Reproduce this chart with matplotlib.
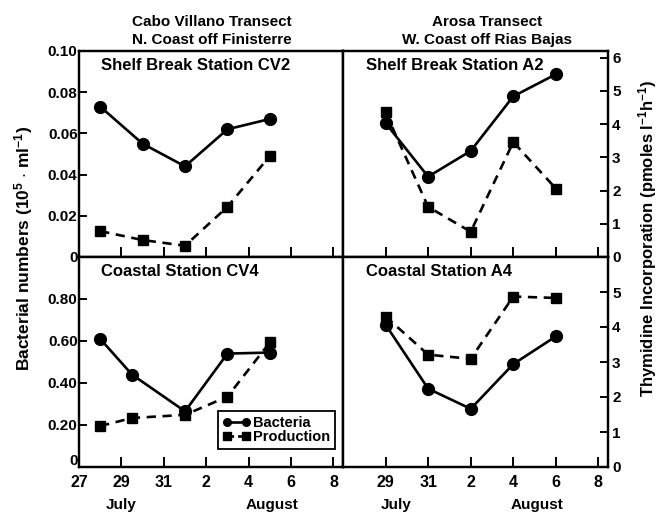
import matplotlib.pyplot as plt
import matplotlib
from matplotlib.lines import Line2D
from matplotlib.transforms import blended_transform_factory

matplotlib.rcParams['font.family'] = ['Liberation Sans', 'DejaVu Sans']
matplotlib.rcParams['font.weight'] = 'bold'
matplotlib.rcParams['font.size'] = 11
matplotlib.rcParams['mathtext.fontset'] = 'custom'
matplotlib.rcParams['mathtext.rm'] = 'Liberation Sans:bold'
matplotlib.rcParams['mathtext.default'] = 'rm'

# x positions are days after July 27
tick_days = [0, 2, 4, 6, 8, 10, 12]
tick_labels = ["27", "29", "31", "2", "4", "6", "8"]

# Cabo Villano, shelf break CV2
cv2_days = [1, 3, 5, 7, 9]
cv2_bact = [0.073, 0.055, 0.044, 0.062, 0.067]
cv2_prod = [0.78, 0.51, 0.34, 1.51, 3.04]

# Arosa, shelf break A2
a2_days = [2, 4, 6, 8, 10]
a2_bact = [0.065, 0.039, 0.0515, 0.078, 0.0887]
a2_prod = [4.35, 1.51, 0.76, 3.46, 2.06]

# Cabo Villano, coastal CV4
cv4_days = [1, 2.5, 5, 7, 9]
cv4_bact = [0.61, 0.44, 0.265, 0.54, 0.545]
cv4_prod = [1.17, 1.40, 1.49, 2.01, 3.56]

# Arosa, coastal A4
a4_days = [2, 4, 6, 8, 10]
a4_bact = [0.678, 0.373, 0.277, 0.49, 0.622]
a4_prod = [4.30, 3.21, 3.09, 4.87, 4.83]

W, H = 666, 512
fig = plt.figure(figsize=(W / 100, H / 100), dpi=100)


def px_axes(x0, x1, y0, y1):
    return fig.add_axes([x0 / W, 1 - y1 / H, (x1 - x0) / W, (y1 - y0) / H])


panels = [
    # (x0, x1, y0, y1, days, bact, prod, title, bact_lim, prod_lim, side, row)
    (79, 343, 51, 257, cv2_days, cv2_bact, cv2_prod, "Shelf Break Station CV2", 0.10, 6.2, "left", "top"),
    (343, 608, 51, 257, a2_days, a2_bact, a2_prod, "Shelf Break Station A2", 0.10, 6.2, "right", "top"),
    (79, 343, 257, 467, cv4_days, cv4_bact, cv4_prod, "Coastal Station CV4", 1.0, 6.0, "left", "bottom"),
    (343, 608, 257, 467, a4_days, a4_bact, a4_prod, "Coastal Station A4", 1.0, 6.0, "right", "bottom"),
]

line_kw = dict(color="black", linewidth=1.9)
for (x0, x1, y0, y1, days, bact, prod, title, blim, plim, side, row) in panels:
    ax = px_axes(x0, x1, y0, y1)
    ax2 = ax.twinx()
    ax.plot(days, bact, "-", marker="o", markersize=8.5, **line_kw)
    ax2.plot(days, prod, "--", marker="s", markersize=7.5, dashes=(3.5, 2.5), **line_kw)

    ax.set_xlim(0, 12.45)
    ax.set_ylim(0, blim)
    ax2.set_ylim(0, plim)

    for a in (ax, ax2):
        for sp in a.spines.values():
            sp.set_linewidth(1.6)

    if side == "left":
        ax.set_xticks(tick_days)
        if row == "top":
            ax.set_yticks([0, 0.02, 0.04, 0.06, 0.08, 0.10],
                          ["0", "0.02", "0.04", "0.06", "0.08", "0.10"])
        else:
            # the bottom "0" is drawn separately, raised a little above the x labels
            ax.set_yticks([0, 0.2, 0.4, 0.6, 0.8],
                          ["", "0.20", "0.40", "0.60", "0.80"])
            ax.annotate("0", xy=(0, 0), xycoords="axes fraction", xytext=(-1, 1.5),
                        textcoords="offset points", ha="right", va="baseline", fontsize=11)
        ax2.set_yticks([])
    else:
        ax.set_xticks(tick_days[1:])
        ax.set_yticks([])
        if row == "top":
            ax2.set_yticks(range(7))
        else:
            ax2.set_yticks(range(6))

    ax.tick_params(axis="x", direction="in", length=7, width=1.4, pad=6, labelsize=11.5)
    ax.tick_params(axis="y", direction="in", length=6, width=1.4, pad=1, labelsize=11)
    ax2.tick_params(axis="y", direction="in", length=6, width=1.4, pad=3, labelsize=11)

    if row == "top":
        ax.set_xticklabels([])
    else:
        ax.set_xticklabels(tick_labels if side == "left" else tick_labels[1:])
        tr = blended_transform_factory(ax.transData, ax.transAxes)
        if side == "left":
            ax.text(2, -0.18, "July", transform=tr, ha="center", va="center", fontsize=11)
            ax.text(9.1, -0.18, "August", transform=tr, ha="center", va="center", fontsize=11)
        else:
            ax.text(2.5, -0.18, "July", transform=tr, ha="center", va="center", fontsize=11)
            ax.text(9.1, -0.18, "August", transform=tr, ha="center", va="center", fontsize=11)

    ax.text(0.085, 0.93, title, transform=ax.transAxes, ha="left", va="center", fontsize=12)

    if side == "left" and row == "bottom":
        handles = [
            Line2D([0], [0], marker="o", markersize=5.5, **line_kw),
            Line2D([0], [0], marker="s", markersize=5.5, linestyle="--", dashes=(2.5, 1.5), **line_kw),
        ]
        leg = ax2.legend(handles, ["Bacteria", "Production"], loc="lower right",
                         bbox_to_anchor=(0.97, 0.086), numpoints=2, handlelength=1.9,
                         handletextpad=0.15, labelspacing=0.0, borderpad=0.35,
                         borderaxespad=0, fancybox=False, edgecolor="black",
                         framealpha=1, fontsize=10.5)
        leg.get_frame().set_linewidth(1.3)

fig.text(211.5 / W, 1 - 31 / H, "Cabo Villano Transect\nN. Coast off Finisterre",
         ha="center", va="center", fontsize=11, linespacing=1.3)
fig.text(487 / W, 1 - 31 / H, "Arosa Transect\nW. Coast off Rias Bajas",
         ha="center", va="center", fontsize=11, linespacing=1.3)

fig.text(24 / W, 1 - 248 / H, r"Bacterial numbers (10$^5$ $\cdot$ ml$^{-1}$)",
         rotation=90, ha="center", va="center", fontsize=12.5)
fig.text(648 / W, 1 - 238 / H, r"Thymidine Incorporation (pmoles l$^{-1}$h$^{-1}$)",
         rotation=90, ha="center", va="center", fontsize=12)

fig.savefig("out.png", dpi=100)
